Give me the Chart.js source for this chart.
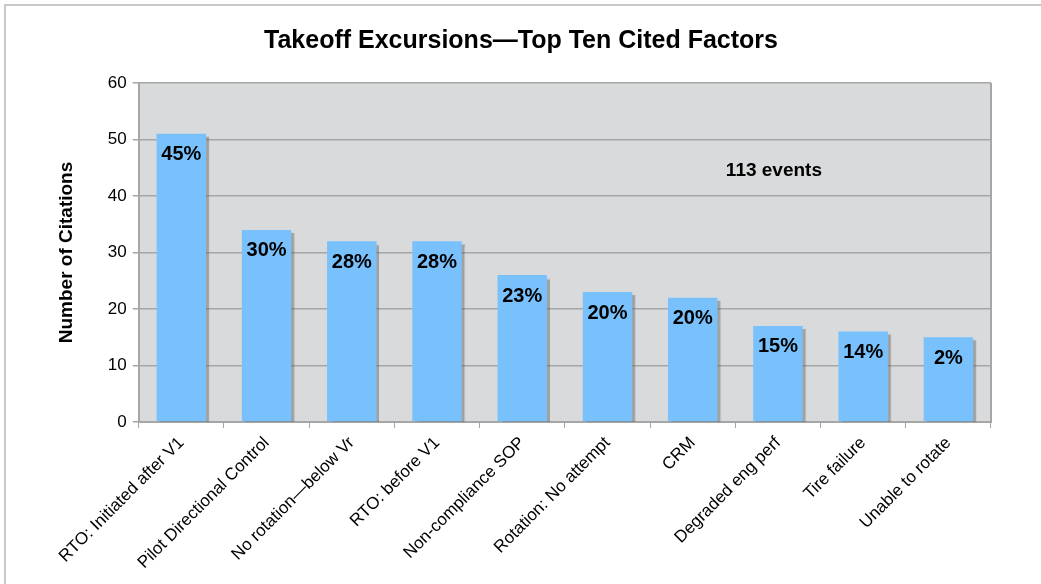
<!DOCTYPE html>
<html>
<head>
<meta charset="utf-8">
<script src="https://cdn.jsdelivr.net/npm/chart.js@4"></script>
<style>
  html, body { margin: 0; padding: 0; background: #fff; }
  #wrap { position: relative; width: 1041px; height: 584px; }
</style>
</head>
<body>
<div id="wrap"><canvas id="chart" width="1041" height="584"></canvas></div>
<script>
"use strict";

const factors = [
  "RTO: Initiated after V1", "Pilot Directional Control", "No rotation\u2014below Vr",
  "RTO: before V1", "Non-compliance SOP", "Rotation: No attempt", "CRM",
  "Degraded eng perf", "Tire failure", "Unable to rotate",
];
const citations = [51, 34, 32, 32, 26, 23, 22, 17, 16, 15];
const shares = ["45%", "30%", "28%", "28%", "23%", "20%", "20%", "15%", "14%", "2%"];
const eventsNote = "113 events";

const FONT = "'Liberation Sans', Arial, sans-serif";

// frame, plot background and right border
const backdrop = {
  id: "backdrop",
  beforeDraw(chart) {
    const { ctx, chartArea: a } = chart;
    ctx.save();
    ctx.fillStyle = "#fff";
    ctx.fillRect(0, 0, chart.width, chart.height);
    ctx.strokeStyle = "#c8c8c8";
    ctx.lineWidth = 2;
    ctx.beginPath();
    ctx.moveTo(5, chart.height);
    ctx.lineTo(5, 5);
    ctx.lineTo(chart.width, 5);
    ctx.stroke();
    ctx.fillStyle = "#d9dadb";
    ctx.fillRect(a.left, a.top, a.right - a.left, a.bottom - a.top);
    ctx.restore();
  },
  afterDraw(chart) {
    const { ctx, chartArea: a } = chart;
    ctx.save();
    ctx.strokeStyle = "#a6a6a6";
    ctx.lineWidth = 2;
    ctx.beginPath();
    ctx.moveTo(a.right, a.top);
    ctx.lineTo(a.right, a.bottom);
    ctx.stroke();
    ctx.restore();
  },
};

// flat drop shadow behind the bars
const barShadow = {
  id: "barShadow",
  beforeDatasetDraw(chart) {
    const ctx = chart.ctx;
    ctx.save();
    ctx.shadowColor = "rgba(90,90,90,0.45)";
    ctx.shadowOffsetX = 3;
    ctx.shadowOffsetY = 3;
    ctx.shadowBlur = 1;
  },
  afterDatasetDraw(chart) {
    chart.ctx.restore();
  },
};

// percentage inside each bar plus the event count note
const labels = {
  id: "labels",
  afterDatasetsDraw(chart) {
    const { ctx, scales } = chart;
    const meta = chart.getDatasetMeta(0);
    ctx.save();
    ctx.fillStyle = "#000";
    ctx.textAlign = "center";
    ctx.textBaseline = "middle";
    ctx.font = "bold 20px " + FONT;
    meta.data.forEach((bar, i) => {
      ctx.fillText(shares[i], bar.x, bar.y + 21);
    });
    ctx.font = "bold 19px " + FONT;
    ctx.fillText(eventsNote, scales.x.getPixelForValue(7) - 4, scales.y.getPixelForValue(44.5));
    ctx.restore();
  },
};

new Chart(document.getElementById("chart"), {
  type: "bar",
  data: {
    labels: factors,
    datasets: [{
      data: citations,
      backgroundColor: "#79c1fc",
      borderWidth: 0,
      barPercentage: 0.58,
      categoryPercentage: 1,
    }],
  },
  options: {
    responsive: false,
    animation: false,
    layout: { padding: { left: 51, right: 50, top: 0, bottom: 6 } },
    plugins: {
      legend: { display: false },
      tooltip: { enabled: false },
      title: {
        display: true,
        text: "Takeoff Excursions\u2014Top Ten Cited Factors",
        color: "#000",
        font: { family: FONT, size: 25, weight: "bold" },
        padding: { top: 26, bottom: 27 },
      },
    },
    scales: {
      x: {
        grid: { drawOnChartArea: false, drawTicks: true, tickLength: 6, color: "#a6a6a6" },
        border: { color: "#a6a6a6", width: 2 },
        ticks: {
          color: "#000",
          font: { family: FONT, size: 17 },
          minRotation: 45,
          maxRotation: 45,
          padding: 5,
        },
      },
      y: {
        min: 0,
        max: 60,
        ticks: {
          stepSize: 10,
          color: "#000",
          font: { family: FONT, size: 17 },
          padding: 6,
        },
        grid: { color: "#a6a6a6", lineWidth: 1.5, tickLength: 6 },
        border: { color: "#a6a6a6", width: 2 },
        title: {
          display: true,
          text: "Number of Citations",
          color: "#000",
          font: { family: FONT, size: 19, weight: "bold" },
          padding: { bottom: 24 },
        },
      },
    },
  },
  plugins: [backdrop, barShadow, labels],
});
</script>
</body>
</html>
